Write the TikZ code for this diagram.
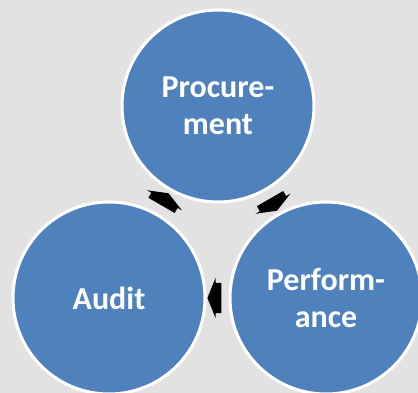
\documentclass[tikz,border=0pt]{standalone}
\usepackage{fontspec}
\setmainfont{Carlito}
\usepackage{xcolor}
\usepackage{tikz}
\usetikzlibrary{calc,shapes.arrows}

\definecolor{stepblue}{RGB}{79,129,189}
\definecolor{granite}{RGB}{226,226,226}

\begin{document}
\begin{tikzpicture}[x=1pt, y=-1pt,
  phase/.style={circle, draw=white, line width=3pt, fill=stepblue, minimum size=192pt,
    inner sep=0pt, text=white, align=center, font=\bfseries\fontsize{32}{37}\selectfont},
  cyclearrow/.style={single arrow, fill=black, draw=none, inner xsep=0pt, inner ysep=15pt,
    minimum height=14pt, single arrow head extend=5pt,
    single arrow tip angle=136}]

% background
\fill[granite] (0,0) rectangle (418,393);
\useasboundingbox (0,0) rectangle (418,393);

% 
\node[phase] (proc) at (218, 106) {Procure-\\ment};
\node[phase] (audit) at (109, 298) {Audit};
\node[phase] (perf) at (326, 298) {Perform-\\ance};

% 
\node[cyclearrow, rotate=60] (a1) at ($(audit)!0.5!(proc)$) {};
\node[cyclearrow, rotate=-60] (a2) at ($(proc)!0.5!(perf)$) {};
\node[cyclearrow, rotate=180] (a3) at ($(perf)!0.5!(audit)$) {};

\end{tikzpicture}
\end{document}
